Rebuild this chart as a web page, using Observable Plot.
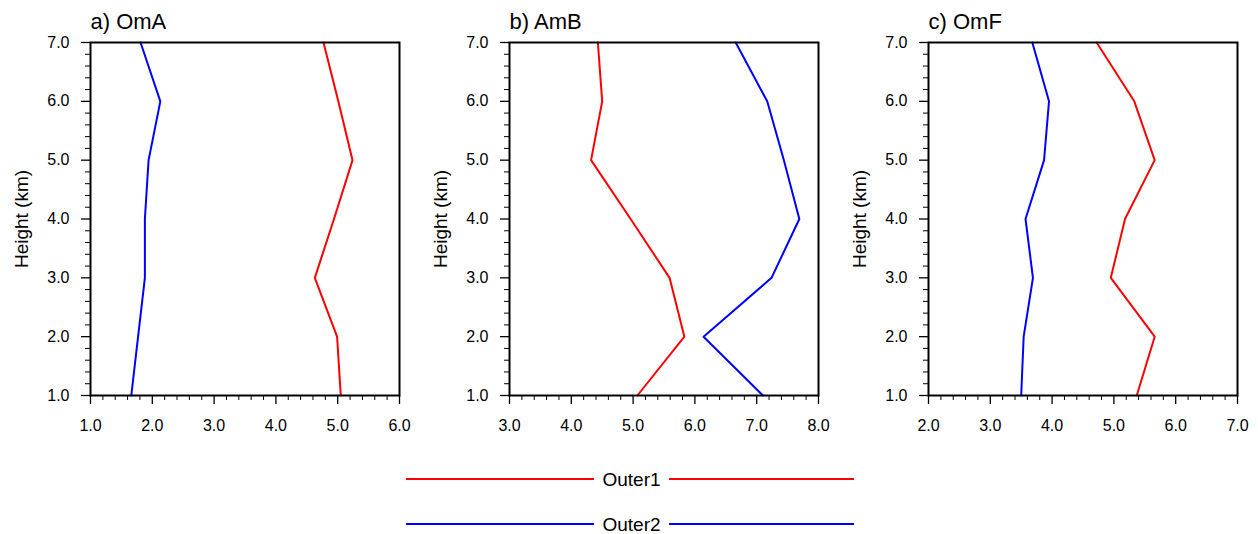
<!DOCTYPE html>
<html><head><meta charset="utf-8">
<script src="https://cdn.jsdelivr.net/npm/d3@7"></script>
<script src="https://cdn.jsdelivr.net/npm/@observablehq/plot@0.6"></script>
<style>
body{margin:0;background:#fff;font-family:"Liberation Sans",Arial,sans-serif;}
#wrap{position:relative;width:1258px;height:534px;overflow:hidden;background:#fff;}
#wrap > svg{position:absolute;}
</style></head><body><div id="wrap"></div>
<script>
const heights=[1,2,3,4,5,6,7];
const seriesNames=["Outer1","Outer2"];
const seriesColors=["#ff0000","#0000ff"];
const panelTitles=["a) OmA","b) AmB","c) OmF"];
const xDomains=[[1,6],[3,8],[2,7]];
const yDomain=[1,7];
const yLabel="Height (km)";
const omaOuter1=[5.05,4.99,4.63,4.94,5.24,5.01,4.77];
const omaOuter2=[1.66,1.77,1.88,1.88,1.94,2.13,1.81];
const ambOuter1=[5.07,5.83,5.59,4.96,4.32,4.50,4.43];
const ambOuter2=[7.10,6.14,7.24,7.69,7.44,7.17,6.66];
const omfOuter1=[5.37,5.66,4.95,5.18,5.66,5.33,4.72];
const omfOuter2=[3.50,3.54,3.69,3.57,3.87,3.95,3.68];

const panelSeries=[[omaOuter1,omaOuter2],[ambOuter1,ambOuter2],[omfOuter1,omfOuter2]];
const wrap=document.getElementById("wrap");
const offsets=[0,419,838];
const fmt=d3.format(".1f");
const notInt=d=>Math.abs(d-Math.round(d))>1e-9;
const font="Liberation Sans, Arial, sans-serif";

panelTitles.forEach((title,i)=>{
  const [x0,x1]=xDomains[i];
  const rows=[];
  panelSeries[i].forEach((vals,s)=>vals.forEach((v,k)=>rows.push({series:seriesNames[s],x:v,h:heights[k]})));
  const majorX=d3.range(x0,x1+1);
  const minorX=d3.range(x0*5,x1*5+1).map(d=>d/5).filter(notInt);
  const majorY=d3.range(yDomain[0],yDomain[1]+1);
  const minorY=d3.range(yDomain[0]*5,yDomain[1]*5+1).map(d=>d/5).filter(notInt);
  const svg=Plot.plot({
    width:420,height:440,marginLeft:90,marginRight:21,marginTop:42,marginBottom:45,
    style:{fontFamily:font,fontSize:"16px",color:"#000",background:"transparent"},
    x:{domain:[x0,x1]},
    y:{domain:yDomain},
    color:{domain:seriesNames,range:seriesColors},
    marks:[
      Plot.axisX({ticks:minorX,tickSize:5,text:null,label:null,strokeWidth:1}),
      Plot.axisX({ticks:majorX,tickSize:9,tickPadding:15,tickFormat:fmt,label:null,strokeWidth:1.3,fontSize:16}),
      Plot.axisY({ticks:minorY,tickSize:5,text:null,label:null,strokeWidth:1}),
      Plot.axisY({ticks:majorY,tickSize:9,tickPadding:12,tickFormat:fmt,label:null,strokeWidth:1.3,fontSize:16}),
      Plot.line(rows,{x:"x",y:"h",z:"series",stroke:"series",strokeWidth:2}),
      Plot.frame({stroke:"#000",strokeWidth:2}),
      Plot.text([title],{frameAnchor:"top-left",dy:-21,fontSize:22,textAnchor:"start",lineAnchor:"middle",fill:"#000"}),
      Plot.text([yLabel],{frameAnchor:"left",rotate:-90,dx:-69,fontSize:19,textAnchor:"middle",lineAnchor:"middle",fill:"#000"})
    ]
  });
  svg.style.left=offsets[i]+"px";
  svg.style.top="0px";
  wrap.appendChild(svg);
});

// legend
const leg=d3.create("svg").attr("width",1258).attr("height",94)
  .style("position","absolute").style("left","0px").style("top","440px");
const legendY=[39,84];
seriesNames.forEach((name,i)=>{
  const g=leg.append("g").attr("transform",`translate(0,${legendY[i]})`);
  g.append("line").attr("x1",406).attr("x2",594).attr("stroke",seriesColors[i]).attr("stroke-width",2);
  g.append("line").attr("x1",669).attr("x2",854).attr("stroke",seriesColors[i]).attr("stroke-width",2);
  g.append("text").attr("x",631.5).attr("y",0).attr("dy","0.35em").attr("text-anchor","middle")
    .attr("font-family",font).attr("font-size",19).attr("fill","#000").text(name);
});
wrap.appendChild(leg.node());
</script></body></html>
